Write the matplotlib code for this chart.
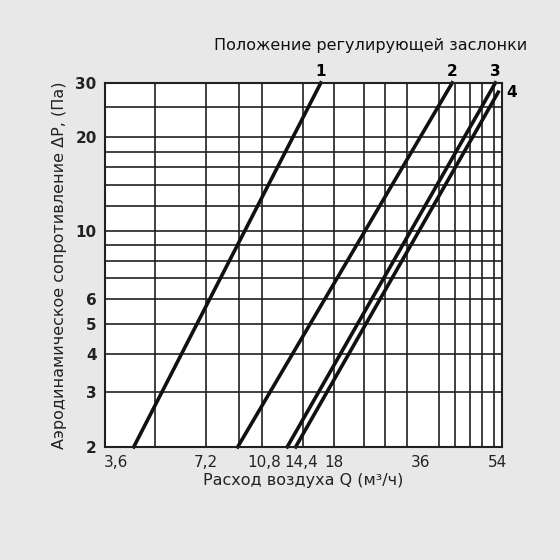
import matplotlib.pyplot as plt
import numpy as np

# curve endpoints (Q, dP)
curve_names = ['1', '2', '3', '4']
q_start = [4.3, 9.05, 12.9, 13.7]
q_end = [16.4, 42.0, 57.2, 58.4]
p_start = [2, 2, 2, 2]
p_end = [30, 30, 30, 28]

# label positions on the original chart are not exactly on log scale
x_tick_pos = [3.8, 7.2, 10.9, 14.3, 18, 33.6, 58]
x_tick_labels = ['3,6', '7,2', '10,8', '14,4', '18', '36', '54']
x_grid = [5, 7.2, 9.1, 10.8, 14.4, 18, 22.3, 25.9, 30.3, 38.2, 43, 47.6, 52, 56.6]
y_ticks = [2, 3, 4, 5, 6, 10, 20, 30]
y_grid = [3, 4, 5, 6, 7, 8, 9, 10, 12, 14, 16, 18, 20, 25]

fig = plt.figure(figsize=(5.6, 5.6), dpi=100, facecolor='#e8e8e8')
ax = fig.add_axes([0.1875, 0.202, 0.709, 0.65])
ax.set_xscale('log')
ax.set_yscale('log')
ax.set_xlim(3.5, 60)
ax.set_ylim(2, 30)
ax.set_facecolor('white')

for x in x_grid:
  ax.axvline(x, color='#202020', lw=1.2)
for y in y_grid:
  ax.axhline(y, color='#202020', lw=1.2)
for s in ax.spines.values():
  s.set_linewidth(1.5)
  s.set_color('#202020')

for name, qa, qb, pa, pb in zip(curve_names, q_start, q_end, p_start, p_end):
  ax.plot([qa, qb], [pa, pb], color='#111111', lw=2.6, clip_on=False)
  if name == '4':
    ax.text(qb * 1.06, pb, name, fontsize=11, fontweight='bold', ha='left', va='center')
  else:
    ax.text(qb, pb * 1.03, name, fontsize=11, fontweight='bold', ha='center', va='bottom')

ax.set_xticks(x_tick_pos)
ax.set_xticklabels(x_tick_labels)
ax.set_yticks(y_ticks)
ax.set_yticklabels([str(v) for v in y_ticks], fontweight='bold')
ax.minorticks_off()
ax.tick_params(length=0, labelsize=11, colors='#222222', pad=6)

ax.set_xlabel('Расход воздуха Q (м³/ч)', fontsize=11.5, color='#222222', labelpad=2)
ax.set_ylabel('Аэродинамическое сопротивление ΔP, (Па)', fontsize=11.5, color='#222222', labelpad=6)
fig.text(0.942, 0.905, 'Положение регулирующей заслонки', fontsize=11.5, ha='right', va='bottom', color='#111111')

fig.savefig('out.png', dpi=100, facecolor=fig.get_facecolor())
